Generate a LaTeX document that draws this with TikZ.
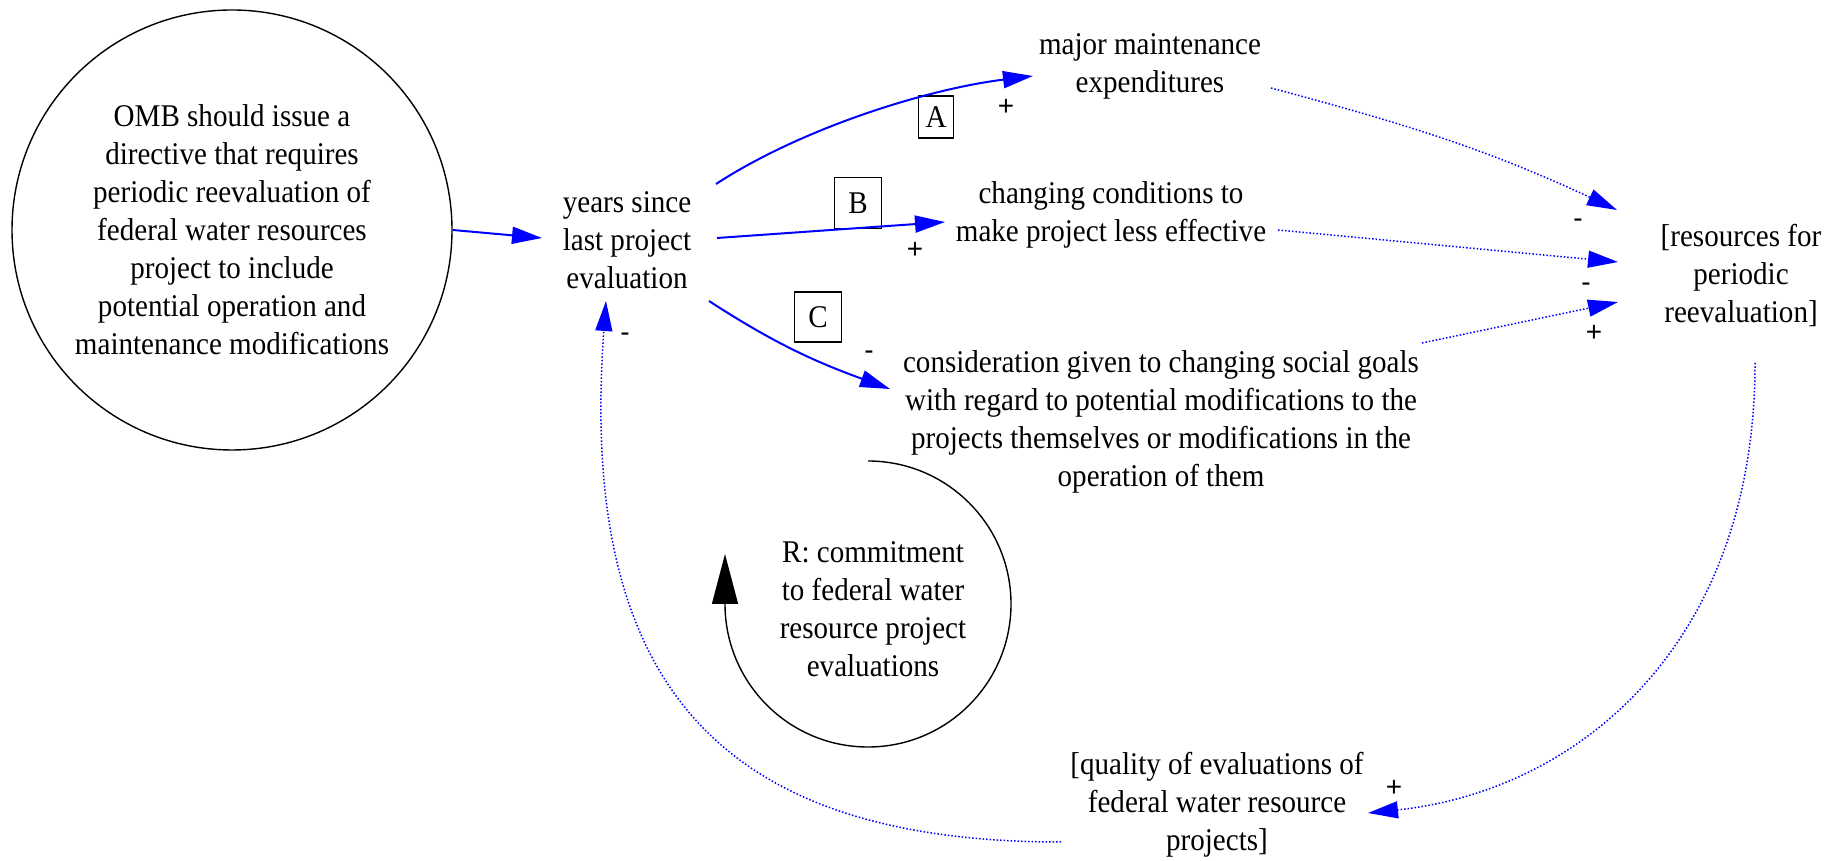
\documentclass[tikz,border=0pt]{standalone}
\usepackage{fontspec}
\setmainfont[FakeStretch=0.92]{Liberation Serif}
\newfontfamily\signfont{Liberation Sans}
\usepackage{tikz}
\usetikzlibrary{arrows.meta,calc,positioning}
\definecolor{linkblue}{rgb}{0,0,1}

\begin{document}
\begin{tikzpicture}[x=0.5pt,y=0.5pt,
    varnode/.style={align=center,inner sep=0pt,font=\fontsize{15.8pt}{19pt}\selectfont},
    tagbox/.style={draw,line width=0.75pt,inner sep=0pt,font=\fontsize{15.8pt}{19pt}\selectfont},
    polsign/.style={inner sep=0pt,font=\signfont\fontsize{14pt}{16pt}\selectfont},
    solidlink/.style={-{Triangle[length=15pt,width=8.5pt]},linkblue,line width=1pt},
    dotlink/.style={-{Triangle[length=15pt,width=8.5pt]},linkblue,line width=0.75pt,dash pattern=on 0.75pt off 1pt}]
        % Page frame
        \useasboundingbox (0,0) rectangle (1846,861);
        % Variables
        \node[varnode,circle,draw,line width=0.7pt,minimum size=220pt] (omb) at (232,631) {OMB should issue a\\directive that requires\\periodic reevaluation of\\federal water resources\\project to include\\potential operation and\\maintenance modifications};
        \node[varnode] (years) at (627,621) {years since\\last project\\evaluation};
        \node[varnode] (maint) at (1150,795) {major maintenance\\expenditures};
        \node[varnode] (cond) at (1111,646) {changing conditions to\\make project less effective};
        \node[varnode] (res) at (1741,586) {[resources for\\periodic\\reevaluation]};
        \node[varnode] (cons) at (1161,439) {consideration given to changing social goals\\with regard to potential modifications to the\\projects themselves or modifications in the\\operation of them};
        \node[varnode] (loopR) at (873,252) {R: commitment\\to federal water\\resource project\\evaluations};
        \node[varnode] (qual) at (1217,56) {[quality of evaluations of\\federal water resource\\projects]};
        % Link tags
        \node[tagbox,minimum width=17.5pt,minimum height=21pt] (tagA) at (936,744) {A};
        \node[tagbox,minimum width=23.5pt,minimum height=25.5pt] (tagB) at (858,658) {B};
        \node[tagbox,minimum width=23.5pt,minimum height=25pt] (tagC) at (818,544) {C};
        % Solid links
        \draw[solidlink] (omb.east) -- ($(years)+(-85,2)$);
        \draw[solidlink] ($(years)+(89,56)$) to[out=33,in=187,looseness=0.8] ($(maint)+(-117,-10)$);
        \draw[solidlink] ($(years)+(90,2)$) -- ($(cond)+(-166,-7)$);
        \draw[solidlink] ($(years)+(82,-61)$) to[out=-33,in=160] ($(cons)+(-271,33)$);
        % Dotted links
        \draw[dotlink] ($(maint)+(121,-22)$) to[out=-15,in=155] ($(res)+(-124,65)$);
        \draw[dotlink] ($(cond)+(167,-15)$) -- ($(res)+(-123,13)$);
        \draw[dotlink] ($(cons)+(261,79)$) -- ($(res)+(-123,-27)$);
        \draw[dotlink] ($(res)+(14,-88)$) .. controls +(0,-283) and +(209,22) .. ($(qual)+(151,-8)$);
        \draw[dotlink] ($(qual)+(-156,-37)$) .. controls +(-340,0) and +(-28,-385) .. ($(years)+(-21,-61)$);
        % Loop symbol
        \draw[line width=0.7pt,-{Triangle[length=25pt,width=13pt]}] ($(loopR)+(-5,148)$) arc[start angle=90,end angle=-180,radius=143] -- ++(0,50);
        % Polarity signs
        \node[polsign] (sA) at (1006,754) {+};
        \node[polsign] (sB) at (915,611) {+};
        \node[polsign] (sC) at (869,506) {-};
        \node[polsign] (sY) at (625,524) {-};
        \node[polsign] (sR1) at (1578,638) {-};
        \node[polsign] (sR2) at (1586,574) {-};
        \node[polsign] (sR3) at (1594,528) {+};
        \node[polsign] (sQ) at (1394,73) {+};
\end{tikzpicture}
\end{document}
